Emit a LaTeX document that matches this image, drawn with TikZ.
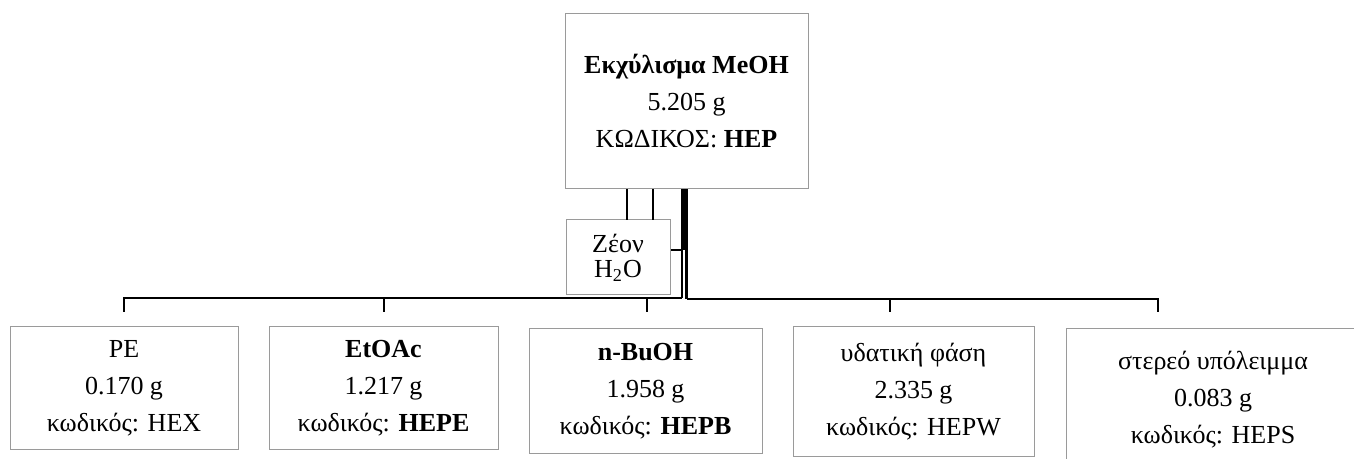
\documentclass[tikz,border=0pt]{standalone}
\usepackage{fontspec}
\setmainfont{Liberation Serif}
\usepackage{xcolor}
\definecolor{FrameGray}{HTML}{9A9A9A}

\begin{document}
\begin{tikzpicture}[x=0.5pt, y=-0.5pt, every node/.style={font=\fontsize{13}{18.5}\selectfont}]
  \tikzstyle{box}=[rectangle, draw=FrameGray, line width=0.5pt, fill=white, align=center, inner sep=0pt]
  \tikzstyle{link}=[line width=1pt, color=black]
  \useasboundingbox (0,0) rectangle (1354,459);
  \clip (0,0) rectangle (1354,459);
  \node[box, minimum width=121.5pt, minimum height=87.5pt] (meoh) at (686.5,101.5) {\textbf{Εκχύλισμα MeOH}\\5.205 g\\ΚΩΔΙΚΟΣ: \textbf{HEP}};
  \node[box, minimum width=52pt, minimum height=37.5pt, font=\fontsize{13}{12.5}\selectfont] (solv) at (618,257.5) {Ζέον\\H\textsubscript{2}O};
  \node[box, minimum width=114pt, minimum height=61pt] (pe) at (124,388) {PE\\0.170 g\\κωδικός: HEX};
  \node[box, minimum width=114.5pt, minimum height=61pt] (etoac) at (383.5,388) {\textbf{EtOAc}\\1.217 g\\κωδικός: \textbf{HEPE}};
  \node[box, minimum width=116.5pt, minimum height=62pt] (buoh) at (645.5,391) {\textbf{n-BuOH}\\1.958 g\\κωδικός: \textbf{HEPB}};
  \node[box, minimum width=120.5pt, minimum height=64.5pt] (aq) at (913.5,391.5) {υδατική φάση\\2.335 g\\κωδικός: HEPW};
  \node[box, minimum width=147pt, minimum height=70.5pt] (solid) at (1213,399.5) {στερεό υπόλειμμα\\0.083 g\\κωδικός: HEPS};
  \foreach \n/\x in {pe/124, etoac/384, buoh/647, aq/890, solid/1158}
    \coordinate (to-\n) at (\x,312);
  \coordinate (s1) at (627,220);
  \coordinate (s2) at (653,220);
  \coordinate (k0) at (684,250);
  \coordinate (k1) at (682,298);
  \coordinate (k2) at (686.5,299);
  \draw[link] (s1) -- (s1 |- meoh.south);
  \draw[link] (s2) -- (s2 |- meoh.south);
  \draw[link] (k0 |- meoh.south) -- (k0);
  \draw[link] (k1) -- (k1 |- meoh.south);
  \draw[link, line width=1.5pt] (k2) -- (k2 |- meoh.south);
  \draw[link] (k1 |- k0) -- (k0 -| solv.east);
  \draw[link] (to-pe) -- ++(0,-14) -- (k1);
  \draw[link] (k2) -- (k2 -| to-solid) -- (to-solid);
  \foreach \n in {etoac, buoh, aq}
    \draw[link] (to-\n) -- ++(0,-13);
\end{tikzpicture}
\end{document}
